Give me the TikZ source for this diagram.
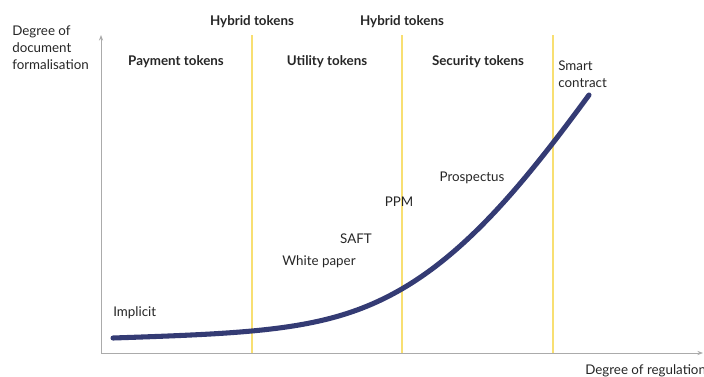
\documentclass[tikz,border=0pt]{standalone}
\usepackage{fontspec}
\setmainfont{Lato}
\usetikzlibrary{arrows.meta}

\definecolor{axisgray}{HTML}{ABABAB}
\definecolor{bandyellow}{HTML}{F8DF72}
\definecolor{curvenavy}{HTML}{343B74}

\tikzset{
  lbl/.style={font=\fontsize{9.5}{12}\selectfont, text=black!85, inner sep=0pt},
  head/.style={lbl, font=\fontsize{9.5}{12}\selectfont\bfseries},
  divider/.style={bandyellow, line width=0.9pt},
  axis/.style={axisgray, line width=0.7pt, -{Stealth[length=4pt,width=3pt]}}
}

\begin{document}
\begin{tikzpicture}[x=0.025cm,y=-0.025cm]
  \useasboundingbox (0,0) rectangle (704,376);

  % axes
  \coordinate (origin) at (101,353);
  \coordinate (ytop) at (101,35);
  \coordinate (xend) at (703,353);
  \draw[axis] (origin) -- (ytop);
  \draw[axis] (origin) -- (xend);

  % yellow dividers between token classes
  \foreach \x/\name in {252/dA, 402/dB, 553/dC} {
    \coordinate (\name top) at (\x,35);
    \coordinate (\name bot) at (\x,353);
    \draw[divider] (\name top) -- (\name bot);
  }

  % axis titles
  \node[lbl, anchor=west, align=left] (ytitle) at (12,48)
    {Degree of\\document\\formalisation};
  \node[lbl, anchor=west] (xtitle) at (585,371) {Degree of regulation};

  % token classes
  \node[head] (hybridA) at (252,22) {Hybrid tokens};
  \node[head] (hybridB) at (402,22) {Hybrid tokens};
  \node[head] (payment) at (176,62) {Payment tokens};
  \node[head] (utility) at (327,62) {Utility tokens};
  \node[head] (security) at (478,62) {Security tokens};

  % document types
  \node[lbl, anchor=west, align=left] (smart) at (558,74) {Smart\\contract};
  \node[lbl] (prospectus) at (472,178) {Prospectus};
  \node[lbl] (ppm) at (399,202) {PPM};
  \node[lbl] (saft) at (356,239) {SAFT};
  \node[lbl] (whitepaper) at (319,262) {White paper};
  \node[lbl, anchor=west] (implicit) at (113,313) {Implicit};

  % formalisation curve
  \coordinate (cstart) at (113,338);
  \coordinate (cmid) at (400,290);
  \coordinate (cend) at (589,95);
  \draw[curvenavy, line width=3.6pt, line cap=round]
    (cstart) .. controls (260,333) and (330,330) .. (cmid)
             .. controls (470,250) and (528,178) .. (cend);

\end{tikzpicture}
\end{document}
